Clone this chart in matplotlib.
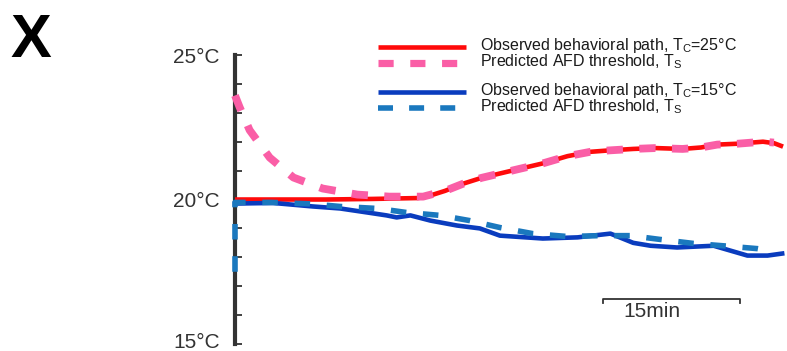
import numpy as np
import matplotlib
matplotlib.use('Agg')
import matplotlib.pyplot as plt
import matplotlib.transforms as mtransforms
from matplotlib.lines import Line2D

plt.rcParams['font.family'] = ['Liberation Sans', 'DejaVu Sans']
plt.rcParams['mathtext.fontset'] = 'custom'
plt.rcParams['mathtext.rm'] = 'Liberation Sans'
plt.rcParams['mathtext.it'] = 'Liberation Sans:italic'

# time in minutes, temperature in deg C
t_red = [0, 5, 10, 15, 20, 21, 23, 25, 27, 29, 31, 33.7, 36.4, 38.9, 41, 43.6,
         46, 49, 51, 52.8, 55, 57.8, 59, 60]
obs_25 = [20.0, 20.0, 20.0, 20.02, 20.05, 20.1, 20.3, 20.55, 20.75, 20.9, 21.05,
          21.25, 21.5, 21.65, 21.7, 21.75, 21.78, 21.75, 21.8, 21.9, 21.93, 22.0,
          21.95, 21.83]

t_pink = [0, 0.5, 1.6, 3.8, 6.4, 9.6, 13.4, 16.9, 20.6, 23, 25, 27, 29, 31, 33.7,
          36.4, 38.9, 41, 43.6, 46, 49, 51, 52.8, 55, 57.8, 59]
pred_25 = [23.6, 23.2, 22.4, 21.45, 20.76, 20.38, 20.17, 20.1, 20.1, 20.3, 20.55,
           20.75, 20.9, 21.05, 21.25, 21.5, 21.65, 21.7, 21.75, 21.78, 21.75, 21.8,
           21.9, 21.93, 22.0, 21.97]

t_blue = [0, 4.2, 8.5, 11.5, 14.5, 16.6, 17.7, 19.2, 21.4, 24.3, 26.8, 29.0, 33.7,
          37.5, 41.1, 43.6, 45.5, 48.4, 52.4, 56.1, 58.3, 59.9]
obs_15 = [19.86, 19.88, 19.76, 19.69, 19.55, 19.45, 19.38, 19.45, 19.27, 19.1, 19.0,
          18.75, 18.65, 18.69, 18.82, 18.5, 18.4, 18.34, 18.4, 18.06, 18.06, 18.13]

t_lblue = [0, 0, 4, 8.2, 11.5, 15.6, 18.8, 22.5, 25.7, 29.0, 32.6, 36.4, 40, 43.3,
           46.5, 50.2, 53.4, 57.2, 58.6]
pred_15 = [17.5, 19.9, 19.9, 19.85, 19.76, 19.69, 19.55, 19.45, 19.27, 19.03, 18.82,
           18.72, 18.75, 18.75, 18.62, 18.48, 18.4, 18.3, 18.22]

y_ticks = list(range(15, 26))
scalebar_start = 40.3
scalebar_len = 15

RED = '#ff0a0a'
PINK = '#fa5ea6'
BLUE = '#0a3cbe'
LBLUE = '#1a78be'
GREY = '#333333'

fig = plt.figure(figsize=(7.87, 3.51), dpi=100)
ax = fig.add_axes([0.2986, 0.0199, 0.6964, 0.8234])

ax.plot(t_red, obs_25, color=RED, lw=3.3, solid_capstyle='butt', clip_on=False, zorder=3)
ax.plot(t_pink, pred_25, color=PINK, lw=5.6, dashes=(2.1, 2.1), clip_on=False, zorder=4)
ax.plot(t_blue, obs_15, color=BLUE, lw=3.3, clip_on=False, zorder=3)
ax.plot(t_lblue, pred_15, color=LBLUE, lw=4, dashes=(2.8, 3.0), clip_on=False, zorder=4)

ax.set_xlim(0, 60)
ax.set_ylim(15, 25)
for s in ['top', 'right', 'bottom']:
    ax.spines[s].set_visible(False)
ax.spines['left'].set_color(GREY)
ax.spines['left'].set_linewidth(3)
ax.set_xticks([])
ax.set_yticks(y_ticks)
ax.set_yticklabels([str(v) + '°C' if v in (15, 20, 25) else '' for v in y_ticks])
ax.tick_params(axis='y', direction='in', length=5, width=1.3, color=GREY,
               labelsize=15, labelcolor=GREY, pad=11)
# bottom label sits a little higher so it stays inside the figure
lab15 = ax.get_yticklabels()[0]
lab15.set_transform(lab15.get_transform() +
                    mtransforms.ScaledTranslation(0, 4 / 100, fig.dpi_scale_trans))

# scale bar
sb_y = 16.57
ax.plot([scalebar_start, scalebar_start, scalebar_start + scalebar_len, scalebar_start + scalebar_len],
        [sb_y - 0.14, sb_y, sb_y, sb_y - 0.14], color=GREY, lw=1.3, clip_on=False)
ax.text(scalebar_start + 5.3, 16.12, '15min', fontsize=15, color=GREY,
        ha='center', va='center')

# legend drawn by hand (pixel rows from top)
rows = [
    (47, RED, 3.3, None, r'Observed behavioral path, T$_{\rm C}$=25°C'),
    (63, PINK, 5.2, (2.1, 2.3), r'Predicted AFD threshold, T$_{\rm S}$'),
    (92, BLUE, 3.3, None, r'Observed behavioral path, T$_{\rm C}$=15°C'),
    (108, LBLUE, 4, (2.7, 2.9), r'Predicted AFD threshold, T$_{\rm S}$'),
]
for y, c, lw, d, label in rows:
    yf = 1 - y / 351
    ln = Line2D([378 / 787, 466 / 787], [yf, yf], transform=fig.transFigure,
                color=c, lw=lw, solid_capstyle='butt')
    if d is not None:
        ln.set_dashes(d)
    fig.add_artist(ln)
    fig.text(480 / 787, yf + 0.003, label, fontsize=11.5, color='#1a1a1a',
             va='center', ha='left')

fig.text(10 / 787, 1 - 57 / 351, 'X', fontsize=44, fontweight='bold', va='baseline')

fig.savefig('out.png', dpi=100)
